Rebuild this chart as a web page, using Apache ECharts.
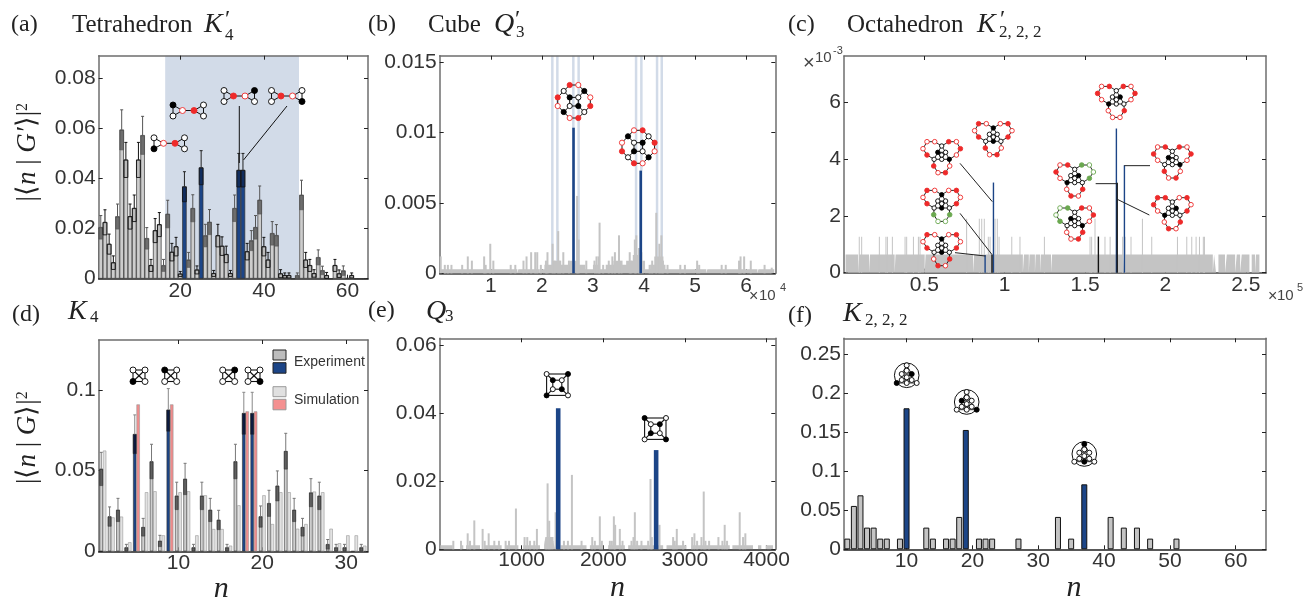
<!DOCTYPE html>
<html><head><meta charset="utf-8">
<script src="https://cdn.jsdelivr.net/npm/echarts@6/dist/echarts.min.js"></script>
<style>html,body{margin:0;padding:0;background:#fff}#c{width:1312px;height:600px}</style></head>
<body><div id="c"></div>
<script>
// ---------- data ----------
const aValues=[.0205,.0225,.0138,.0064,.0248,.0594,.0474,.0248,.0281,.0474,.0572,.0161,.0053,.0192,.0216,.0053,.0258,.0106,.0128,.0019,.0367,.0075,.0281,.0035,.0443,.0172,.0226,.0021,.0172,.013,.0097,.0021,.0281,.0433,.0433,.0108,.0152,.0205,.0314,.0128,.0075,.0181,.0173,.002,.0013,.0013,0,.0013,.0334,.0075,.0053,.0021,.0085,.0033,.0013,0,.0053,.002,.0032,.0003,.0013,0,0,0];
const aErrors=[.0047,.005,.004,.0027,.005,.008,.007,.005,.0053,.007,.0076,.0043,.0024,.0048,.0048,.0024,.0055,.0035,.0037,.001,.006,.003,.0054,.0016,.0068,.0045,.005,.0012,.0045,.0037,.0033,.0012,.0053,.0067,.0067,.0033,.004,.0047,.0056,.0037,.003,.0047,.0043,.0016,.001,.001,0,.001,.0059,.003,.0024,.0015,.003,.0017,.0012,0,.0024,.0015,.0019,0,.001,0,0,0];
const aBlue=[21,25,34,35];
const aBoxed=[2,3,4,7,8,9,10,13,14,15,18,19,20,24,28,29,30,31,32,36,40,41,44,45,46,50,51,52,55,57,58,61];
const aRegion=[[16.4,48.4]];

const bFloor=[[.01,.00028],[1.52,0],[1.54,.00028],[1.96,0],[1.98,.00028],[2.05,.0006],[2.2,.0009],[2.36,.0006],[2.55,.0009],[2.72,.0006],[2.85,.00028],[3.0,.0006],[3.1,.00028],[3.25,.0006],[3.4,.0009],[3.55,.0006],[3.65,.0009],[3.78,.0013],[3.95,.0009],[4.02,.00028],[4.12,.0006],[4.2,.0012],[4.38,.0006],[4.42,.00028],[5.22,0],[5.24,.00028],[6.22,0],[6.24,.00028],[6.55,0]];
const bSpikes=[[.02,.0012],[.1,.0006],[.16,.0006],[.23,.0006],[.44,.0006],[.55,.0012],[.63,.0009],[.87,.0012],[.9,.0006],[.99,.0021],[1.05,.0009],[1.39,.0006],[1.48,.0006],[1.64,.0009],[1.7,.0012],[1.79,.0015],[1.87,.0015],[1.91,.0015],[1.98,.0006],[2.08,.0009],[2.11,.0015],[2.21,.0021],[2.25,.0009],[2.32,.003],[2.36,.0009],[2.42,.0015],[2.53,.0009],[2.69,.0055],[2.72,.0024],[2.87,.0009],[3.03,.0009],[3.07,.0012],[3.11,.0012],[3.13,.0036],[3.2,.0006],[3.31,.0009],[3.38,.0012],[3.43,.0015],[3.51,.0027],[3.56,.0009],[3.72,.0015],[3.75,.0009],[3.82,.0024],[3.85,.0027],[3.9,.0018],[3.95,.0015],[4.11,.0006],[4.16,.0009],[4.24,.0043],[4.3,.0021],[4.34,.0027],[4.37,.0009],[4.46,.0006],[4.71,.0006],[4.8,.0006],[5.04,.0009],[5.08,.0006],[5.52,.0006],[5.6,.0006],[5.86,.0009],[5.89,.0012],[5.96,.0012],[6.09,.0009],[6.36,.0006],[6.5,.0004]];
const bBlue=[[2.62,.01035],[3.935,.0073]];
const bStripes=[2.205,2.303,2.616,2.72,3.844,3.948,4.255,4.347];

const cFloor=[[.01,.644],[.088,0],[.095,.644],[.156,0],[.162,.644],[.315,0],[.321,.644],[.502,0],[.508,.644],[.803,0],[.81,.644],[1.113,0],[1.12,.644],[1.15,0],[1.155,.644],[1.188,0],[1.193,.644],[1.22,0],[1.225,.644],[1.288,0],[1.295,.644],[1.738,0],[1.743,.644],[2.295,0],[2.303,.644],[2.315,0],[2.33,.644],[2.371,0],[2.382,.644],[2.434,0],[2.444,.644],[2.465,0],[2.475,.644],[2.523,0],[2.537,.644],[2.558,0],[2.564,.644],[2.585,0]];
const cSpikes=[[.095,1.26],[.11,1.26],[.22,1.26],[.261,1.26],[.27,1.26],[.301,1.26],[.38,1.26],[.39,1.26],[.432,1.26],[.463,1.26],[.473,1.26],[.763,1.9],[.842,1.9],[.857,1.9],[.873,1.9],[.898,1.26],[.909,1.26],[.94,1.9],[.954,1.9],[.965,1.26],[1.044,1.26],[1.095,1.26],[1.247,1.26],[1.531,1.26],[1.541,1.26],[1.562,1.9],[1.624,1.26],[1.656,1.26],[1.734,1.26],[1.749,1.26],[1.786,1.26],[1.857,1.9],[1.915,1.26],[2.075,1.26],[2.133,1.26],[2.164,1.26],[2.191,1.26],[2.212,1.26],[2.236,1.26],[2.243,1.26]];
const cBlue=[[.878,.62],[.93,3.17],[1.695,5.07],[1.745,3.78]];
const cBlack=[[.921,.62],[1.583,1.27],[1.7,3.16]];

const dExp=[.051,.0215,.0256,.0023,.0725,.0149,.0556,.0064,.0876,.0343,.0448,.0023,.0343,.0256,.0194,.0023,.0556,.0855,.0855,.0215,.0297,.0405,.062,.0256,.0149,.0363,.0343,.0043,.0023,.0023,0,.0023];
const dErr=[.0103,.006,.0072,.002,.012,.0055,.0107,.0035,.0132,.0085,.0097,.002,.0085,.0072,.006,.002,.0107,.013,.013,.0066,.0081,.0093,.0111,.0072,.0055,.0087,.0085,.003,.002,.002,0,.002];
const dSim=[.0624,.021,.0215,.0056,.091,.0366,.0372,.0099,.091,.0366,.0372,.0099,.0347,.0138,.0138,.0035,.0285,.0867,.0867,.0347,.0169,.0366,.0366,.014,.0169,.037,.0366,.014,.005,.0099,.0099,.0035];
const dBlue=[5,9,18,19];

const eFloor=[[4,.0012],[155,0],[245,.0012],[285,0],[318,.0012],[490,0],[550,.0012],[755,0],[795,.0012],[960,0],[1020,.0012],[1225,0],[1275,.0012],[1290,.0036],[1390,.002],[1410,0],[1477,.0012],[1795,0],[1836,.0012],[2000,0],[2060,.0012],[2265,0],[2305,.0012],[2550,0],[2562,.0012],[2734,0],[2775,.0012],[3020,0],[3080,.0012],[3550,0],[3582,.0012],[3835,0],[3896,.0012],[3937,0],[3990,.0012],[4080,0]];
const eSpikes=[[163,.0025],[257,.0025],[339,.0047],[367,.0025],[420,.0085],[522,.006],[547,.0025],[596,.0047],[665,.0025],[722,.0025],[804,.0025],[845,.0025],[930,.012],[1036,.0036],[1069,.0036],[1102,.0025],[1155,.0025],[1187,.006],[1297,.0025],[1318,.0194],[1338,.0084],[1355,.0036],[1379,.0025],[1416,.0109],[1518,.0025],[1567,.0025],[1616,.0219],[1734,.0025],[1865,.0036],[1897,.0025],[1958,.0097],[1983,.0025],[2081,.0025],[2105,.0025],[2130,.0097],[2146,.0072],[2203,.006],[2236,.0025],[2346,.0025],[2370,.0036],[2387,.0109],[2415,.0025],[2468,.0025],[2550,.0025],[2579,.0207],[2595,.0036],[2689,.0072],[2856,.0036],[2876,.0025],[2901,.006],[2978,.0025],[3089,.0036],[3117,.0047],[3150,.0025],[3203,.0036],[3231,.017],[3252,.0025],[3297,.0025],[3411,.0036],[3460,.0025],[3488,.0072],[3517,.0025],[3672,.0109],[3713,.0036],[3741,.0047]];
const eBlue=[[1448,.0415],[2648,.0292]];

const fBars=[[1,.0137],[2,.0556],[3,.0692],[4,.0278],[5,.0278],[6,.0137],[7,.0137],[9,.0137],[10,.1808],[13,.0278],[14,.0137],[16,.0137],[17,.0137],[18,.0415],[19,.153],[21,.0137],[22,.0137],[23,.0137],[27,.0137],[33,.0415],[35,.0137],[37,.0833],[41,.0415],[43,.0278],[45,.0278],[47,.0137],[51,.0137]];
const fBlue=[10,19,37];

// tick labels
const aXTicks=[20,40,60], aYTicks=[0,.02,.04,.06,.08];
const bXTicks=[1,2,3,4,5,6], bYTicks=[0,.005,.01,.015];
const cXTicks=[.5,1,1.5,2,2.5], cYTicks=[0,2,4,6];
const dXTicks=[10,20,30], dYTicks=[0,.05,.1];
const eXTicks=[1000,2000,3000,4000], eYTicks=[0,.02,.04,.06];
const fXTicks=[10,20,30,40,50,60], fYTicks=[0,.05,.1,.15,.2,.25];

// ---------- style ----------
const BLUE='#1c4587',GRAY='#c4c4c4',RED='#ee2a2a',LIGHT='#d2dbe8',INK='#333',FRAME='#6e6e6e';
const SANS='"Liberation Sans",Arial,sans-serif',SERIF='"Liberation Serif","Times New Roman",serif';

const opt={animation:false,backgroundColor:'#fff',grid:[],xAxis:[],yAxis:[],series:[],title:[],graphic:[]};
const gfx=[];

function fmt(v){return String(v);}
function panel(g){
  const i=opt.grid.length;
  opt.grid.push({left:g.l,top:g.t,width:g.w,height:g.h,containLabel:false,outerBoundsMode:'none'});
  const ax=(pos,ticks,range,label,extra)=>Object.assign({
    type:'value',gridIndex:i,position:pos,min:range[0],max:range[1],
    splitLine:{show:false},
    axisLine:{show:true,onZero:false,lineStyle:{color:pos==='bottom'?g.base||FRAME:FRAME,width:pos==='bottom'?1.6:1.5}},
    axisTick:{show:true,inside:true,length:4,customValues:ticks,lineStyle:{color:'#222',width:1}},
    axisLabel:label!=null?{show:true,customValues:ticks,formatter:fmt,color:INK,fontFamily:SANS,fontSize:21,margin:label}:{show:false}
  },extra||{});
  opt.xAxis.push(ax('bottom',g.xt,g.xr,g.xm,g.xName?{name:'n',nameLocation:'middle',nameGap:g.xGap,nameTextStyle:{fontFamily:SERIF,fontStyle:'italic',fontSize:30,color:'#222',padding:g.xName}}:{}));
  opt.xAxis.push(ax('top',g.xt,g.xr,null));
  opt.yAxis.push(ax('left',g.yt,g.yr,3,g.yName?{name:g.yName,nameLocation:'middle',nameRotate:90,nameGap:g.yGap,
     nameTextStyle:{color:'#222',padding:g.yPad,rich:{r:{fontFamily:SERIF,fontSize:27,color:'#222'},i:{fontFamily:SERIF,fontStyle:'italic',fontSize:27,color:'#222'},s:{fontFamily:SERIF,fontSize:16,color:'#222',verticalAlign:'top',lineHeight:24}}}}:{}));
  opt.yAxis.push(ax('right',g.yt,g.yr,null));
  return {x0:2*i,x1:2*i+1,y0:2*i,y1:2*i+1};
}
const bandRender=(px)=>(p,api)=>{
  const a=api.coord([api.value(0),api.value(1)]),b=api.coord([api.value(2),api.value(3)]);
  return {type:'rect',shape:{x:a[0]-(px||0)/2,y:b[1],width:(b[0]-a[0])+(px||0),height:a[1]-b[1]},style:{fill:api.visual('color')}};
};
function bands(ax,ranges,top,color,px){
  opt.series.push({type:'custom',name:'region',xAxisIndex:ax.x0,yAxisIndex:ax.y0,z:0,silent:true,itemStyle:{color},
    renderItem:bandRender(px),encode:{x:[0,2],y:[1,3]},data:ranges.map(r=>[r[0],0,r[1],top])});
}
function floorArea(ax,pts){
  opt.series.push({type:'line',name:'floor',xAxisIndex:ax.x0,yAxisIndex:ax.y0,step:'end',showSymbol:false,z:1,
    lineStyle:{width:0},itemStyle:{color:GRAY},areaStyle:{color:GRAY,opacity:1},data:pts});
}
function spikes(ax,pts,w,color,top,z){
  opt.series.push({type:'bar',name:'spikes',xAxisIndex:top?ax.x1:ax.x0,yAxisIndex:top?ax.y1:ax.y0,barWidth:w,z:z||2,
    itemStyle:{color},data:pts});
}
function errs(ax,name,xs,vals,errv,dx,w,styleOf){
  opt.series.push({type:'custom',name,xAxisIndex:ax.x0,yAxisIndex:ax.y0,z:4,silent:true,
    encode:{x:0,y:1},data:xs.map((n,k)=>[n,vals[k],errv[k]]).filter(r=>r[2]>0),
    renderItem:(p,api)=>{
      const n=api.value(0),v=api.value(1),e=api.value(2);
      const c=api.coord([n,v]),lo=api.coord([n,v-e]),hi=api.coord([n,v+e]);
      const x=c[0]+dx,s=styleOf(n);
      return {type:'group',children:[
        {type:'rect',shape:{x:x-w/2,y:c[1],width:w,height:lo[1]-c[1]},style:{fill:s.band,stroke:s.edge,lineWidth:s.edgeW}},
        {type:'line',shape:{x1:x,y1:c[1],x2:x,y2:hi[1]},style:{stroke:s.whisk,lineWidth:1}},
        {type:'line',shape:{x1:x-1.5,y1:hi[1],x2:x+1.5,y2:hi[1]},style:{stroke:s.whisk,lineWidth:1}}
      ]};
    }});
}
function label(text,left,top,size,extra){
  opt.title.push({text,left,top,padding:0,textStyle:Object.assign({fontFamily:SERIF,fontWeight:'normal',fontSize:size,color:'#222'},extra||{})});
}
const ital={fontStyle:'italic'};

// ---------- panel a ----------
const nA=aValues.map((_,i)=>i+1);
const pa=panel({l:98.7,t:55.7,w:269.3,h:223,xt:aXTicks,yt:aYTicks,xr:[.5,64.9],yr:[0,.089],base:'#222',xm:2,
  yName:'{r||⟨}{i|n}{r| | }{i|G′}{r|⟩|}{s|2}',yGap:57,yPad:[0,0,0,30]});
bands(pa,aRegion,.089,LIGHT);
opt.series.push({type:'bar',name:'Experiment',xAxisIndex:pa.x0,yAxisIndex:pa.y0,barWidth:4.4,z:2,
  itemStyle:{borderColor:'#333',borderWidth:.7,color:p=>aBlue.includes(p.value[0])?BLUE:'#cdcdcd'},
  data:nA.map((n,i)=>[n,aValues[i]])});
errs(pa,'errors a',nA,aValues,aErrors,0,3.9,n=>{
  if(aBlue.includes(n))return {band:'rgba(10,25,60,.55)',edge:'#111',edgeW:.8,whisk:'#222'};
  return aBoxed.includes(n)?{band:'rgba(120,120,120,.2)',edge:'#111',edgeW:.9,whisk:'#111'}:{band:'rgba(70,70,70,.7)',edge:'#555',edgeW:.6,whisk:'#555'};
});

// ---------- panel b ----------
const pb=panel({l:439.7,t:55.7,w:335.6,h:217.6,xt:bXTicks,yt:bYTicks,xr:[0,6.57],yr:[0,.01547],base:'#444',xm:2});
bands(pb,bStripes.map(x=>[x,x]),.01547,LIGHT,2.5);
floorArea(pb,bFloor);
spikes(pb,bSpikes,2,GRAY);
spikes(pb,bBlue,2.6,BLUE,true,3);

// ---------- panel c ----------
const pc=panel({l:844,t:56,w:422,h:216.7,xt:cXTicks,yt:cYTicks,xr:[0,2.626],yr:[0,7.62],base:'#444',xm:2});
floorArea(pc,cFloor);
spikes(pc,cSpikes,1,GRAY);
spikes(pc,cBlue,1.4,BLUE,true,3);
opt.series.push({type:'bar',name:'black',xAxisIndex:pc.x1,yAxisIndex:pc.y1,barWidth:1.4,z:3,barGap:'-100%',itemStyle:{color:'#111'},data:cBlack});
opt.series[opt.series.length-2].barGap='-100%';

// ---------- panel d ----------
const nD=dExp.map((_,i)=>i+1);
const pd=panel({l:98.7,t:340,w:269.3,h:211.3,xt:dXTicks,yt:dYTicks,xr:[.5,32.6],yr:[0,.1309],base:'#222',xm:1,
  yName:'{r||⟨}{i|n}{r| | }{i|G}{r|⟩|}{s|2}',yGap:57,yPad:[0,0,0,16],xName:[0,24,0,0],xGap:22});
opt.series.push({type:'bar',name:'Experiment',xAxisIndex:pd.x0,yAxisIndex:pd.y0,barWidth:3.4,barGap:0,z:2,
  itemStyle:{borderColor:'#333',borderWidth:.6,color:p=>dBlue.includes(p.value[0])?BLUE:'#cfcfcf'},
  data:nD.map((n,i)=>[n,dExp[i]])});
opt.series.push({type:'bar',name:'Simulation',xAxisIndex:pd.x0,yAxisIndex:pd.y0,barWidth:3.4,barGap:0,z:2,
  itemStyle:{borderColor:'#999',borderWidth:.6,color:p=>dBlue.includes(p.value[0])?'#f08c8c':'#e2e2e2'},
  data:nD.map((n,i)=>[n,dSim[i]])});
errs(pd,'errors d',nD,dExp,dErr,-1.7,3.2,n=>dBlue.includes(n)?{band:'rgba(0,0,20,.6)',edge:'#222',edgeW:.5,whisk:'#888'}:{band:'rgba(50,50,50,.7)',edge:'#333',edgeW:.5,whisk:'#777'});

// ---------- panel e ----------
const pe=panel({l:439.7,t:338.3,w:335.6,h:211,xt:eXTicks,yt:eYTicks,xr:[-4,4108],yr:[0,.0621],base:'#222',xm:0,xName:[0,0,0,20],xGap:24});
floorArea(pe,eFloor);
spikes(pe,eSpikes,2,GRAY);
spikes(pe,eBlue,4.6,BLUE,true,3);

// ---------- panel f ----------
const pf=panel({l:844,t:338.3,w:422,h:211,xt:fXTicks,yt:fYTicks,xr:[.5,64.6],yr:[0,.2705],base:'#222',xm:1,xName:[0,0,0,38],xGap:24});
opt.series.push({type:'bar',name:'counts',xAxisIndex:pf.x0,yAxisIndex:pf.y0,barWidth:6,z:2,
  itemStyle:{borderColor:'#111',borderWidth:1,color:p=>fBlue.includes(p.value[0])?BLUE:GRAY},data:fBars});

// ---------- text ----------
label('(a)',11,13,24); label('Tetrahedron',72,13,25); label('K',204,11,28,ital); label('′',225,8,24); label('4',225,27,17);
label('(b)',368,13,24); label('Cube',428,13,25); label('Q',494,11,28,ital); label('′',515,8,24); label('3',516,24,17);
label('(c)',788,13,24); label('Octahedron',847,13,25); label('K',977,11,28,ital); label('′',1000,8,24); label('2, 2, 2',999,24,17);
label('(d)',12,303,24); label('K',68,298,28,ital); label('4',90,309,17);
label('(e)',368,299,24); label('Q',426,298,28,ital); label('3',445,308,17);
label('(f)',788,304,24); label('K',843,300,28,ital); label('2, 2, 2',865,312,17);
const sm={fontFamily:SANS,color:'#444'};
label('×',749,289,16,sm); label('10',759,288,15,sm); label('4',780,282,11,sm);
label('×',803,53,20,sm); label('10',815,50,15,sm); label('-3',833,45,11,sm);
label('×',1268,289,16,sm); label('10',1277,288,15,sm); label('5',1297,282,11,sm);
label('Experiment',294,355,14,{fontFamily:SANS,color:INK});
label('Simulation',294,393,14,{fontFamily:SANS,color:INK});

// ---------- inset diagrams and annotation strokes ----------
const line=(x1,y1,x2,y2,w,c)=>gfx.push({type:'line',z:20,silent:true,shape:{x1,y1,x2,y2},style:{stroke:c||'#111',lineWidth:w||1}});
const dot=(cx,cy,kind,r)=>{
  const st={k:['#000','#000'],w:['#fff','#000'],f:[RED,RED],o:['#fff',RED],g:['#6aa84f','#6aa84f'],h:['#fff','#6aa84f']}[kind];
  gfx.push({type:'circle',z:21,silent:true,shape:{cx,cy,r:r||2.6},style:{fill:st[0],stroke:st[1],lineWidth:.9}});
};
const rect=(x,y,w,h,fill,stroke)=>gfx.push({type:'rect',z:20,silent:true,shape:{x,y,width:w,height:h},style:{fill,stroke,lineWidth:1}});

function dumbbell(cx,cy,kinds){
  const P=[[-15.5,-5.5],[-15.5,5.5],[-6,0],[5.5,0],[15,-5.5],[15,5.5]];
  [[0,1],[0,2],[1,2],[2,3],[3,4],[3,5],[4,5]].forEach(e=>line(cx+P[e[0]][0],cy+P[e[0]][1],cx+P[e[1]][0],cy+P[e[1]][1],1));
  P.forEach((p,i)=>dot(cx+p[0],cy+p[1],kinds[i],3));
}
dumbbell(169.5,143.3,'wkofww'); dumbbell(188.5,110.5,'kwofww'); dumbbell(239.5,96,'wwfokw'); dumbbell(287,96,'wwfowk');
line(239.3,106,239.3,163,1); line(287,106,243.5,160,1);

function cubeRing(cx,cy,outer,inner){
  const O=[[-4.3,-16.7],[4.3,-16.7],[10.3,-10.7],[16.3,-4.3],[16.3,4.3],[10.3,10.3],[4.3,16.3],[-4.3,16.3],[-10.3,10.3],[-16.3,4.3],[-16.3,-4.3],[-10.3,-10.7]];
  const I=[[-4.3,-4.3],[4.3,-4.3],[4.3,4.3],[-4.3,4.3]];
  O.forEach((p,i)=>{const q=O[(i+1)%12];line(cx+p[0],cy+p[1],cx+q[0],cy+q[1],1);});
  I.forEach((p,i)=>{const q=I[(i+1)%4],r=O[[11,2,5,8][i]];line(cx+p[0],cy+p[1],cx+q[0],cy+q[1],1);line(cx+p[0],cy+p[1],cx+r[0],cy+r[1],1);});
  O.forEach((p,i)=>dot(cx+p[0],cy+p[1],outer[i],2.6));
  I.forEach((p,i)=>dot(cx+p[0],cy+p[1],inner[i],2.6));
}
cubeRing(574,101.7,'fokofwfokofw','kwkw'); cubeRing(638.3,147,'ofwfokofwfok','wkwk');

function heart(cx,cy,colours,blacks){
  const O=[[-14.7,-15.3],[-7,-15.3],[7,-15.3],[14.7,-15.3],[-18.7,-8.3],[18.7,-8.3],[-14.7,-2],[14.7,-2],[-8,9],[8,9],[-3.7,15.7],[3.7,15.7]];
  const I=[[0,-11],[-3.9,-4.7],[3.9,-4.7],[-7.6,2.3],[0,2.3],[7.6,2.3],[0,-2]];
  const L=(a,b)=>line(cx+a[0],cy+a[1],cx+b[0],cy+b[1],.9);
  [[0,1],[2,3],[0,4],[3,5],[4,6],[5,7],[8,10],[10,11],[11,9]].forEach(e=>L(O[e[0]],O[e[1]]));
  L(O[1],I[0]);L(O[2],I[0]);L(O[6],I[3]);L(O[7],I[5]);L(O[8],I[3]);L(O[9],I[5]);
  [[0,1],[0,2],[1,2],[1,3],[2,5],[3,4],[4,5],[1,4],[2,4],[1,6],[2,6]].forEach(e=>L(I[e[0]],I[e[1]]));
  O.forEach((p,i)=>dot(cx+p[0],cy+p[1],colours[i],2.3));
  I.forEach((p,i)=>dot(cx+p[0],cy+p[1],blacks.includes(i)?'k':'w',2.2));
}
heart(1116.3,101.7,'offoffooofoo',[2,3]);
heart(1172.3,162.3,'offoffoofoof',[1,5]);
heart(1172.3,213,'ffoffoofoffo',[2,3]);
heart(1074.7,180.3,'ofghfhogoffo',[2,3]);
heart(1074.7,223.3,'hgfohfgoofof',[1,5]);
heart(993.3,139,'foofooffFoof'.toLowerCase(),[0,4]);
heart(941.7,157,'oofooffofoof',[1,5]);
heart(941.7,205.7,'foofooffgghh',[0,4]);
heart(941.7,250,'foofooffoffo',[0,4]);
[[510,490,607,605],[510,640,607,765],[495,758,586,768],[917,551,980,551],[982,598,1078,645],[1003,497,1080,497]]
  .forEach(s=>line(790+s[0]/3,s[1]/3,790+s[2]/3,s[3]/3,1,'#222'));

function k4(cx,cy,black){
  const P=[[-6,-6],[6,-6],[6,5.5],[-6,5.5]];
  P.forEach((p,i)=>{const q=P[(i+1)%4];line(cx+p[0],cy+p[1],cx+q[0],cy+q[1],1.1);});
  line(cx-6,cy-6,cx+6,cy+5.5,1.1);line(cx+6,cy-6,cx-6,cy+5.5,1.1);
  P.forEach((p,i)=>dot(cx+p[0],cy+p[1],i===black?'k':'w',3));
}
k4(139,376,3);k4(170.7,376,0);k4(228.7,376,1);k4(254,376,2);
rect(273,350,13,10,'#bdbdbd','#222'); rect(273,362.7,13,10.5,BLUE,'#222');
rect(273,386.7,13,10,'#e0e0e0','#999'); rect(273,399.3,13,10.5,'#f49090','#999');

function cube(cx,cy,out,inn){
  const O=[[-10.7,-10.7],[10.7,-10.7],[10.7,10.7],[-10.7,10.7]],I=[[-4.5,-4.5],[4.5,-4.5],[4.5,4.5],[-4.5,4.5]];
  O.forEach((p,i)=>{const q=O[(i+1)%4],a=I[i],b=I[(i+1)%4];
    line(cx+p[0],cy+p[1],cx+q[0],cy+q[1],1.1);line(cx+a[0],cy+a[1],cx+b[0],cy+b[1],1.1);line(cx+p[0],cy+p[1],cx+a[0],cy+a[1],1.1);});
  O.forEach((p,i)=>dot(cx+p[0],cy+p[1],out[i],2.5));I.forEach((p,i)=>dot(cx+p[0],cy+p[1],inn[i],2.5));
}
cube(557.3,384.7,'wkwk','kwkw');cube(655.3,428.7,'kwkw','wkwk');

function wheel(cx,cy,a,b){
  const P=[[0,-10.7],[0,-5.3],[-5,-2],[5,-2],[0,1.3],[-5,4],[5,4],[-10,7],[0,7],[10,7]];
  const E=[[0,2],[0,3],[2,3],[1,2],[1,3],[2,4],[3,4],[2,5],[3,6],[4,5],[4,6],[5,6],[5,7],[5,8],[6,8],[6,9],[7,8],[8,9]];
  gfx.push({type:'circle',z:20,silent:true,shape:{cx,cy:cy-.7,r:12.3},style:{fill:'#fff',stroke:'#111',lineWidth:1}});
  E.forEach(e=>line(cx+P[e[0]][0],cy+P[e[0]][1],cx+P[e[1]][0],cy+P[e[1]][1],.8));
  P.forEach((p,i)=>dot(cx+p[0],cy+p[1],(i===a||i===b)?'k':'w',2.5));
}
wheel(906.7,376,3,7);wheel(966.7,402.7,2,9);wheel(1084.3,454.7,0,8);

opt.graphic=gfx;
const chart=echarts.init(document.getElementById('c'),null,{renderer:'canvas'});
chart.setOption(opt);
</script></body></html>
